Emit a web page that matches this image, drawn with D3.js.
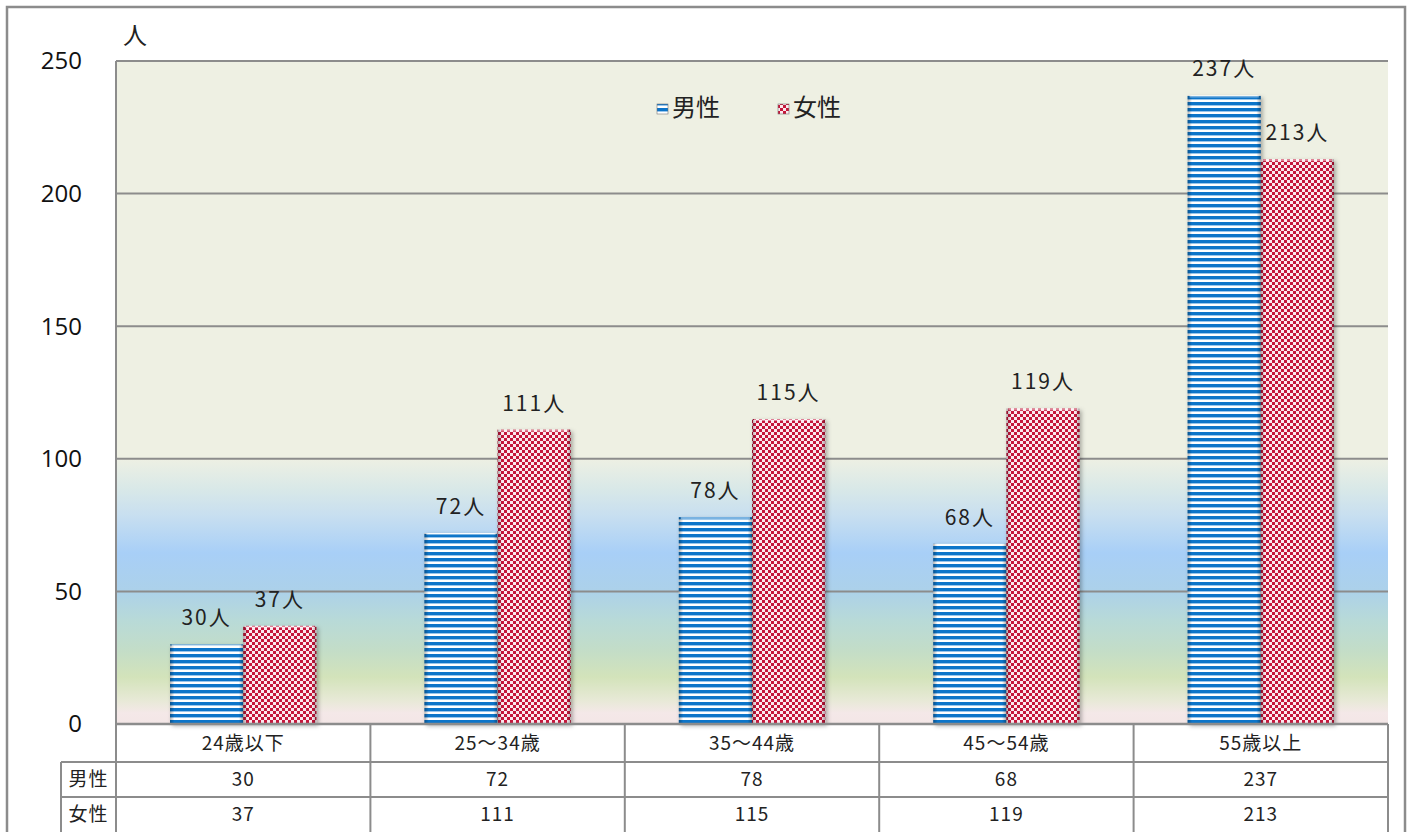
<!DOCTYPE html>
<html lang="ja">
<head>
<meta charset="UTF-8">
<title>年齢別 男女人数</title>
<script src="https://d3js.org/d3.v7.min.js"></script>
<style>
  body { margin: 0; background: #fff; }
  svg { display: block; }
  .jp { font-family: "Noto Sans CJK JP", "Noto Sans", sans-serif; fill: #222; }
  .tick-label { font-family: "Open Sans", "Lato", sans-serif; fill: #111; }
</style>
</head>
<body>
<svg id="chart" width="1413" height="832"></svg>
<script>
// データ
const categories = ['24歳以下', '25～34歳', '35～44歳', '45～54歳', '55歳以上'];
const seriesNames = ['男性', '女性'];
const maleValues = [30, 72, 78, 68, 237];
const femaleValues = [37, 111, 115, 119, 213];
const yTicks = [0, 50, 100, 150, 200, 250];

const svg = d3.select('#chart');
const W = 1413, H = 832;
const plot = { left: 116, right: 1388, top: 61, bottom: 724 };
const gridColor = '#8c8c8c';

const x = d3.scaleBand().domain(categories).range([plot.left, plot.right]);
const bw = x.bandwidth();
const x1 = d3.scaleBand().domain(seriesNames).range([54, bw - 54]);
const y = d3.scaleLinear().domain([0, 250]).range([plot.bottom, plot.top]);

const defs = svg.append('defs');

// 背景グラデーション
const bg = defs.append('linearGradient').attr('id', 'bgGrad')
  .attr('x1', 0).attr('y1', 0).attr('x2', 0).attr('y2', 1);
const span = plot.bottom - plot.top;
[[plot.top, '#eef0e3'], [458, '#eef0e3'], [490, '#d8e8e8'], [515, '#c8dff0'],
 [553, '#a8cff7'], [590, '#acd1ea'], [620, '#b8dad8'], [650, '#c3ddc8'],
 [677, '#d3e3ba'], [700, '#e7e9d6'], [713, '#f4e8e8'], [plot.bottom, '#f3e6e6']]
  .forEach(([py, c]) => bg.append('stop')
    .attr('offset', (py - plot.top) / span).attr('stop-color', c));

// 男性: 横縞
const pm = defs.append('pattern').attr('id', 'patMale')
  .attr('patternUnits', 'userSpaceOnUse').attr('width', 8).attr('height', 6);
pm.append('rect').attr('width', 8).attr('height', 6).attr('fill', '#ffffff');
pm.append('rect').attr('y', 0).attr('width', 8).attr('height', 3).attr('fill', '#0c74c9');
pm.append('rect').attr('y', 3).attr('width', 8).attr('height', 0.8).attr('fill', '#7fb8e6');

// 女性: 市松模様
const pf = defs.append('pattern').attr('id', 'patFemale')
  .attr('patternUnits', 'userSpaceOnUse').attr('width', 6).attr('height', 6);
pf.append('rect').attr('width', 6).attr('height', 6).attr('fill', '#fbe9ee');
pf.append('rect').attr('width', 3).attr('height', 3).attr('fill', '#c5173a');
pf.append('rect').attr('x', 3).attr('y', 3).attr('width', 3).attr('height', 3).attr('fill', '#c5173a');

// 立体感
const edge = defs.append('linearGradient').attr('id', 'edgeGrad')
  .attr('x1', 0).attr('y1', 0).attr('x2', 1).attr('y2', 0);
[[0, 0.3], [0.06, 0], [0.94, 0], [1, 0.3]].forEach(([o, a]) =>
  edge.append('stop').attr('offset', o).attr('stop-color', '#000').attr('stop-opacity', a));

const shadow = defs.append('filter').attr('id', 'shadow')
  .attr('x', '-10%').attr('y', '-10%').attr('width', '130%').attr('height', '130%');
shadow.append('feDropShadow').attr('dx', 2).attr('dy', 2).attr('stdDeviation', 2)
  .attr('flood-color', '#000').attr('flood-opacity', 0.3);

// 外枠
svg.append('rect').attr('x', 7).attr('y', 7).attr('width', W - 15).attr('height', H + 20)
  .attr('fill', '#fff').attr('stroke', gridColor).attr('stroke-width', 2.5);

// プロット背景
svg.append('rect').attr('x', plot.left).attr('y', plot.top)
  .attr('width', plot.right - plot.left).attr('height', span)
  .attr('fill', 'url(#bgGrad)');

// グリッド線
svg.append('g').selectAll('line').data(yTicks.filter(d => d > 0)).join('line')
  .attr('x1', plot.left).attr('x2', plot.right)
  .attr('y1', d => y(d)).attr('y2', d => y(d))
  .attr('stroke', gridColor).attr('stroke-width', 2);
svg.append('line').attr('x1', plot.left).attr('x2', plot.left)
  .attr('y1', plot.top).attr('y2', plot.bottom)
  .attr('stroke', gridColor).attr('stroke-width', 2);

// Y軸ラベル
svg.append('g').selectAll('text').data(yTicks).join('text')
  .attr('class', 'tick-label')
  .attr('x', 82).attr('y', d => y(d)).attr('dy', '0.35em')
  .attr('text-anchor', 'end').attr('font-size', 24)
  .text(d => d);
svg.append('text').attr('class', 'jp').attr('x', 135).attr('y', 36).attr('dy', '0.35em')
  .attr('text-anchor', 'middle').attr('font-size', 24).text('人');

// 棒
const rows = categories.map((c, i) => ({ cat: c, vals: [maleValues[i], femaleValues[i]] }));
const bars = [];
rows.forEach(r => r.vals.forEach((v, j) => bars.push({ cat: r.cat, s: seriesNames[j], v, j })));

const barG = svg.append('g');
const bx = d => x(d.cat) + x1(d.s);
barG.selectAll('rect.bar').data(bars).join('rect')
  .attr('class', 'bar')
  .attr('x', bx).attr('width', x1.bandwidth())
  .attr('y', d => y(d.v)).attr('height', d => y(0) - y(d.v))
  .attr('fill', d => d.j === 0 ? 'url(#patMale)' : 'url(#patFemale)')
  .attr('filter', 'url(#shadow)');
barG.selectAll('rect.edge').data(bars).join('rect')
  .attr('class', 'edge')
  .attr('x', bx).attr('width', x1.bandwidth())
  .attr('y', d => y(d.v)).attr('height', d => y(0) - y(d.v))
  .attr('fill', 'url(#edgeGrad)');
barG.selectAll('rect.top').data(bars).join('rect')
  .attr('class', 'top')
  .attr('x', d => bx(d) + 2).attr('width', x1.bandwidth() - 4)
  .attr('y', d => y(d.v)).attr('height', 2)
  .attr('fill', '#fff').attr('opacity', 0.45);

// データラベル
svg.append('g').selectAll('text').data(bars).join('text')
  .attr('class', 'jp')
  .attr('x', d => bx(d) + x1.bandwidth() / 2)
  .attr('y', d => y(d.v) - 19)
  .attr('text-anchor', 'middle').attr('font-size', 21)
  .attr('letter-spacing', 2)
  .text(d => d.v + '人');

// 凡例
const legend = svg.append('g');
const legendItems = [
  { name: '男性', fill: 'url(#patMale)', x: 657 },
  { name: '女性', fill: 'url(#patFemale)', x: 778 }
];
legendItems.forEach(it => {
  legend.append('rect').attr('x', it.x).attr('y', 104).attr('width', 11).attr('height', 10)
    .attr('fill', it.fill).attr('stroke', '#777').attr('stroke-width', 0.6);
  legend.append('text').attr('class', 'jp').attr('x', it.x + 15).attr('y', 108)
    .attr('dy', '0.35em').attr('font-size', 24).text(it.name);
});

// データテーブル
const tbl = svg.append('g');
const rowY = [724, 762, 797, 840];
const labelX = 61;
const bounds = categories.map(c => x(c)).concat([plot.right]);
tbl.selectAll('line.v').data(bounds).join('line')
  .attr('x1', d => d).attr('x2', d => d).attr('y1', rowY[0]).attr('y2', H + 5)
  .attr('stroke', gridColor).attr('stroke-width', 2);
tbl.append('line').attr('x1', labelX).attr('x2', labelX).attr('y1', rowY[1]).attr('y2', H + 5)
  .attr('stroke', gridColor).attr('stroke-width', 2);
tbl.append('line').attr('x1', plot.left).attr('x2', plot.right).attr('y1', rowY[0]).attr('y2', rowY[0])
  .attr('stroke', gridColor).attr('stroke-width', 2.5);
[rowY[1], rowY[2]].forEach(yy => tbl.append('line')
  .attr('x1', labelX).attr('x2', plot.right).attr('y1', yy).attr('y2', yy)
  .attr('stroke', gridColor).attr('stroke-width', 2));

const cellText = (tx, ty, t) => tbl.append('text').attr('class', 'jp')
  .attr('x', tx).attr('y', ty).attr('dy', '0.35em').attr('text-anchor', 'middle')
  .attr('font-size', 19).attr('letter-spacing', 1).text(t);

categories.forEach((c, i) => {
  const cx = x(c) + bw / 2;
  cellText(cx, (rowY[0] + rowY[1]) / 2, c);
  cellText(cx, (rowY[1] + rowY[2]) / 2, maleValues[i]);
  cellText(cx, 814, femaleValues[i]);
});
cellText((labelX + plot.left) / 2, (rowY[1] + rowY[2]) / 2, seriesNames[0]);
cellText((labelX + plot.left) / 2, 814, seriesNames[1]);
</script>
</body>
</html>
